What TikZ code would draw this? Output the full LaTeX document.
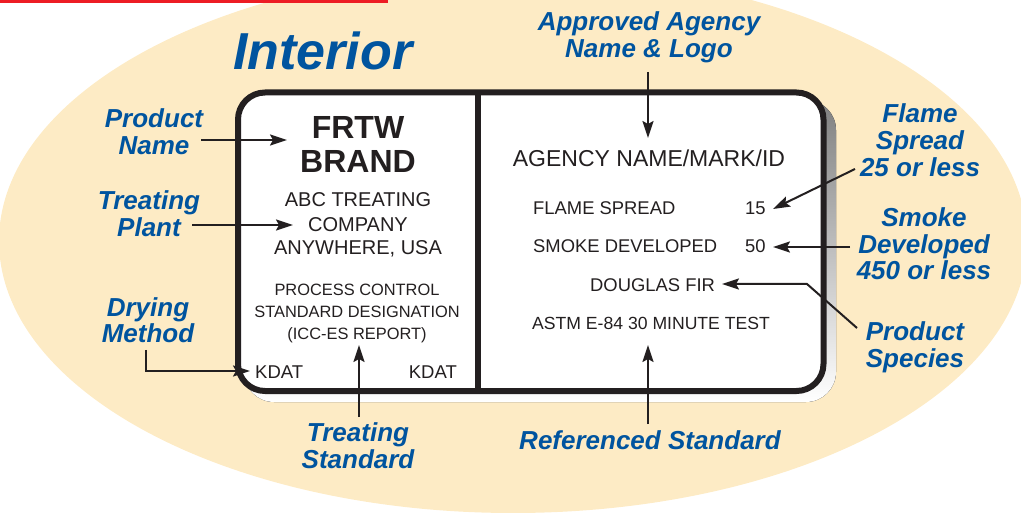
\documentclass[tikz,border=0pt]{standalone}
\usepackage{fontspec}
\setmainfont{Liberation Sans}
\usetikzlibrary{arrows.meta}
\definecolor{ell}{RGB}{253,235,197}
\definecolor{lblue}{RGB}{0,84,159}
\definecolor{ink}{RGB}{35,31,32}
\definecolor{shade}{RGB}{228,214,178}
\definecolor{redbar}{RGB}{237,28,36}
\begin{document}
\begin{tikzpicture}[x=1pt,y=-1pt,
  lbl/.style={text=lblue, font=\fontsize{26}{27}\selectfont\bfseries\itshape, align=center, anchor=base, inner sep=0pt},
  txt/.style={text=ink, anchor=base, inner sep=0pt},
  arr/.style={draw=ink, line width=2pt, -{Stealth[length=17pt,width=11pt,inset=3pt]}},
  box/.style={draw=ink, line width=6pt, fill=white, rounded corners=27pt}
]
\useasboundingbox (0,0) rectangle (1021,513);
\clip (0,0) rectangle (1021,513);
% background ellipse and red bar
\fill[ell] (513,241) ellipse [x radius=514, y radius=272];
\fill[redbar] (0,0) rectangle (388,3.5);
% label box with shadow
\fill[shade, rounded corners=30pt] (244,100) rectangle (836,402);
\draw[box] (238,92.5) rectangle (823.5,391);
\draw[ink, line width=6pt] (477.5,92.5) -- (477.5,391);

% title
\node[lbl, anchor=base west, font=\fontsize{52}{54}\selectfont\bfseries\itshape] (title) at (233,70) {Interior};

% left panel texts (multi-line nodes are placed at their last baseline)
\node[txt, font=\fontsize{32}{34}\selectfont\bfseries, align=center] (brand) at (358,173) {FRTW\\BRAND};
\node[txt, font=\fontsize{20}{24}\selectfont, align=center] (plant) at (358,255) {ABC TREATING\\COMPANY\\ANYWHERE, USA};
\node[txt, font=\fontsize{16.4}{22}\selectfont, align=center] (pcs) at (357,340) {PROCESS CONTROL\\STANDARD DESIGNATION\\(ICC-ES REPORT)};
\node[txt, anchor=base west, font=\fontsize{18.5}{20}\selectfont] (kdat1) at (255,378) {KDAT};
\node[txt, anchor=base east, font=\fontsize{18.5}{20}\selectfont] (kdat2) at (457,378) {KDAT};

% right panel texts
\node[txt, font=\fontsize{23}{24}\selectfont] (agency) at (649,167) {AGENCY NAME/MARK/ID};
\node[txt, anchor=base west, font=\fontsize{18.4}{20}\selectfont] (fs) at (533,215) {FLAME SPREAD};
\node[txt, anchor=base west, font=\fontsize{18.4}{20}\selectfont] (fsv) at (745,215) {15};
\node[txt, anchor=base west, font=\fontsize{18.4}{20}\selectfont] (sd) at (533,253) {SMOKE DEVELOPED};
\node[txt, anchor=base west, font=\fontsize{18.4}{20}\selectfont] (sdv) at (745,253) {50};
\node[txt, anchor=base west, font=\fontsize{18.4}{20}\selectfont] (species) at (590,292) {DOUGLAS FIR};
\node[txt, anchor=base west, font=\fontsize{17.6}{20}\selectfont] (astm) at (532,330) {ASTM E-84 30 MINUTE TEST};

% callout labels
\node[lbl] (lapproved) at (649,58) {Approved Agency\\Name \& Logo};
\node[lbl] (lpname) at (154,155) {Product\\Name};
\node[lbl] (lplant) at (149,237) {Treating\\Plant};
\node[lbl] (ldry) at (148,343) {Drying\\Method};
\node[lbl] (ltstd) at (358,468) {Treating\\Standard};
\node[lbl] (lrstd) at (650,449) {Referenced Standard};
\node[lbl] (lflame) at (920,177) {Flame\\Spread\\25 or less};
\node[lbl] (lsmoke) at (924,280) {Smoke\\Developed\\450 or less};
\node[lbl] (lspecies) at (915,367) {Product\\Species};

% connector end points
\coordinate (a1) at (201,140);  \coordinate (b1) at (287,140);
\coordinate (a2) at (192,225);  \coordinate (b2) at (293,225);
\coordinate (a3) at (146,350);  \coordinate (b3) at (250,371);
\coordinate (a4) at (359,417);  \coordinate (b4) at (359,345);
\coordinate (a5) at (648,424);  \coordinate (b5) at (648,345);
\coordinate (a6) at (648,72);   \coordinate (b6) at (648,138);
\coordinate (a7) at (855,169);  \coordinate (b7) at (773,209);
\coordinate (a8) at (850,247);  \coordinate (b8) at (773,247);
\coordinate (a9) at (857,328);  \coordinate (k9) at (807,284); \coordinate (b9) at (722,284);

\draw[arr] (a1) -- (b1);
\draw[arr] (a2) -- (b2);
\draw[arr] (a3) |- (b3);
\draw[arr] (a4) -- (b4);
\draw[arr] (a5) -- (b5);
\draw[arr] (a6) -- (b6);
\draw[arr] (a7) -- (b7);
\draw[arr] (a8) -- (b8);
\draw[arr] (a9) -- (k9) -- (b9);
\end{tikzpicture}
\end{document}
